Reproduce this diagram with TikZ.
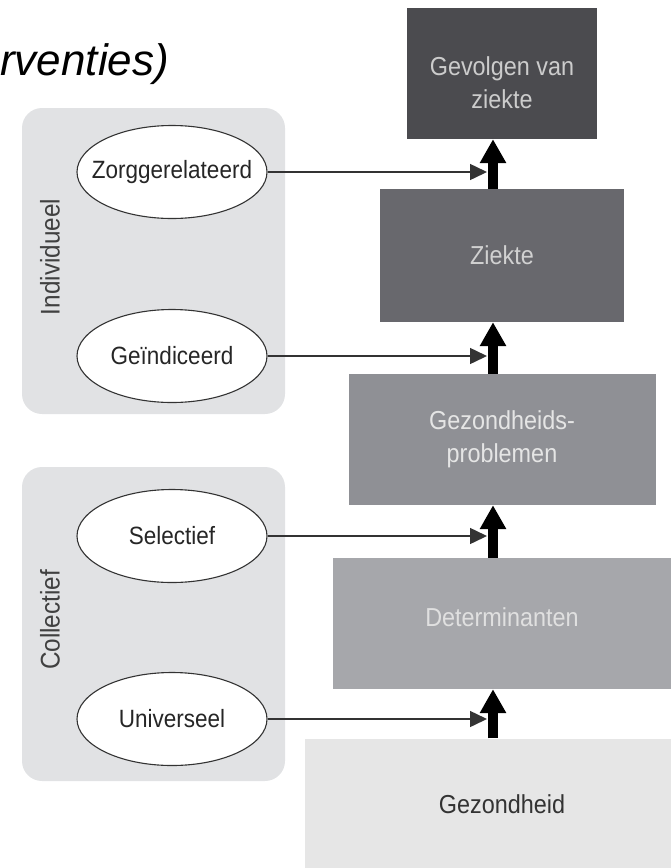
\documentclass[tikz,border=0pt]{standalone}
\usepackage{fontspec}
\setmainfont{Liberation Sans}
\newfontfamily\condfont[FakeStretch=0.9]{Liberation Sans}
\usetikzlibrary{arrows.meta,shapes.geometric}
\usepackage{xcolor}
\definecolor{panelgray}{HTML}{E1E2E4}
\definecolor{gevolgengray}{HTML}{4B4B4F}
\definecolor{ziektegray}{HTML}{68686D}
\definecolor{problemgray}{HTML}{8F9095}
\definecolor{determgray}{HTML}{A6A7AB}
\definecolor{healthgray}{HTML}{E6E6E6}

\begin{document}
\begin{tikzpicture}[x=1pt,y=-1pt,
    stage/.style={rectangle, minimum height=131pt, inner sep=0pt, align=center,
        font=\condfont\fontsize{26}{33}\selectfont},
    option/.style={ellipse, draw=black!80, line width=1.1pt, fill=white,
        minimum width=190pt, minimum height=93pt, inner xsep=-16pt, inner ysep=0pt,
        text=black!85, font=\condfont\fontsize{25}{28}\selectfont},
    panel/.style={rectangle, rounded corners=20pt, fill=panelgray,
        minimum width=263pt, inner sep=0pt},
    sidelabel/.style={rotate=90, text=black!75, font=\condfont\fontsize{27}{30}\selectfont},
    thinarrow/.style={draw=black!80, line width=1.5pt, -{Triangle[length=17pt,width=16pt]}},
    thickarrow/.style={draw=black, line width=10pt, -{Triangle[length=24pt,width=25pt]}}]
        \useasboundingbox (0,0) rectangle (671,868);
        % title (starts at the left edge)
        \node[anchor=base west, inner sep=0pt, font=\itshape\fontsize{44}{50}\selectfont] (title) at (0,75) {rventies)};
        % panels
        \node[panel, minimum height=306pt] (individueel) at (153.5,261) {};
        \node[panel, minimum height=314pt] (collectief) at (153.5,624) {};
        \node[sidelabel] (individueellabel) at (50,257) {Individueel};
        \node[sidelabel] (collectieflabel) at (50,620) {Collectief};
        % interventions
        \node[option] (zorg) at (172,172) {Zorggerelateerd};
        \node[option] (geind) at (172,356) {Geïndiceerd};
        \node[option] (select) at (172,536) {Selectief};
        \node[option] (univ) at (172,719) {Universeel};
        % stages
        \node[stage, fill=gevolgengray, text=black!20, minimum width=190pt] (gevolgen) at (502,73.5) {\rule{0pt}{37pt}Gevolgen van\\ziekte};
        \node[stage, fill=ziektegray, text=black!18, minimum width=244pt, minimum height=133pt] (ziekte) at (502,255.5) {Ziekte};
        \node[stage, fill=problemgray, text=black!10, minimum width=307pt] (problemen) at (502,439.5) {Gezondheids-\\problemen};
        \node[stage, fill=determgray, text=black!12, minimum width=338pt] (determinanten) at (502,623.5) {Determinanten\rule[-12pt]{0pt}{12pt}};
        \node[stage, fill=healthgray, text=black!80, minimum width=394pt] (gezondheid) at (502,804) {Gezondheid};
        % axis of the upward arrows and end of the side arrows
        \coordinate (axis) at (493,0);
        \coordinate (hit) at (487,0);
        \draw[thickarrow] (gezondheid.north -| axis) -- (determinanten.south -| axis);
        \draw[thickarrow] (determinanten.north -| axis) -- (problemen.south -| axis);
        \draw[thickarrow] (problemen.north -| axis) -- (ziekte.south -| axis);
        \draw[thickarrow] (ziekte.north -| axis) -- (gevolgen.south -| axis);
        \draw[thinarrow] (zorg.east) -- (zorg.east -| hit);
        \draw[thinarrow] (geind.east) -- (geind.east -| hit);
        \draw[thinarrow] (select.east) -- (select.east -| hit);
        \draw[thinarrow] (univ.east) -- (univ.east -| hit);
\end{tikzpicture}
\end{document}
